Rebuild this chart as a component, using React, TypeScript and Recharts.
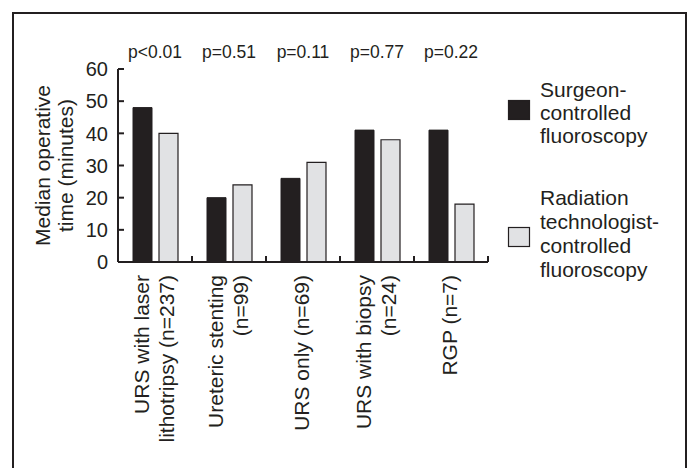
import React from 'react';
import { BarChart, Bar, XAxis, YAxis } from 'recharts';

const categoryLines: string[][] = [
  ['URS with laser', 'lithotripsy (n=237)'],
  ['Ureteric stenting', '(n=99)'],
  ['URS only (n=69)'],
  ['URS with biopsy', '(n=24)'],
  ['RGP (n=7)'],
];
const categories = categoryLines.map((l) => l.join(' '));
const surgeonControlled = [48, 20, 26, 41, 41];
const technologistControlled = [40, 24, 31, 38, 18];
const pValues = ['p<0.01', 'p=0.51', 'p=0.11', 'p=0.77', 'p=0.22'];
const yTicks = [0, 10, 20, 30, 40, 50, 60];
const yLabelLines = ['Median operative', 'time (minutes)'];
const seriesLabels: string[][] = [
  ['Surgeon-', 'controlled', 'fluoroscopy'],
  ['Radiation', 'technologist-', 'controlled', 'fluoroscopy'],
];

const INK = '#231f20';
const GRAY = '#e1e2e4';
const seriesColors = [INK, GRAY];
const FONT = '"Liberation Sans", Arial, Helvetica, sans-serif';

const data = categories.map((c, i) => ({
  category: c,
  surgeon: surgeonControlled[i],
  tech: technologistControlled[i],
}));

const XTick = (props: any) => {
  const { x, y, payload } = props;
  const idx = categories.indexOf(payload.value);
  const lines = categoryLines[idx] || [String(payload.value)];
  const half = typeof payload.offset === 'number' && payload.offset > 0 ? payload.offset : 37;
  const ty = y + 13;
  const offs = lines.length === 2 ? [-6, 19] : [6];
  return (
    <g>
      <line x1={x + half} x2={x + half} y1={y} y2={y - 6} stroke={INK} strokeWidth={2} />
      <text
        transform={`rotate(-90 ${x} ${ty})`}
        x={x}
        y={ty}
        textAnchor="end"
        fontSize={21}
        fill={INK}
        fontFamily={FONT}
      >
        {lines.map((l, i) => (
          <tspan key={i} x={x} y={ty + offs[i]}>
            {l}
          </tspan>
        ))}
      </text>
    </g>
  );
};

const PTick = (props: any) => {
  const { x, y, payload } = props;
  const idx = categories.indexOf(payload.value);
  return (
    <text x={x} y={y - 11} textAnchor="middle" fontSize={17.5} fill={INK} fontFamily={FONT}>
      {pValues[idx]}
    </text>
  );
};

const YTick = (props: any) => {
  const { x, y, payload } = props;
  return (
    <g>
      <line x1={x} x2={x + 6} y1={y} y2={y} stroke={INK} strokeWidth={2} />
      <text x={x - 10} y={y} dy="0.36em" textAnchor="end" fontSize={20} fill={INK} fontFamily={FONT}>
        {payload.value}
      </text>
    </g>
  );
};

const legendLayout = [
  { rectTop: 100, firstBaseline: 97, step: 23 },
  { rectTop: 227, firstBaseline: 205, step: 24 },
];

export default function App() {
  return (
    <div style={{ position: 'absolute', left: 0, top: 0, width: 691, height: 468, background: '#fff' }}>
      <div
        style={{
          position: 'absolute',
          left: 12,
          top: 12,
          width: 675,
          height: 456,
          boxSizing: 'border-box',
          borderTop: `2px solid ${INK}`,
          borderLeft: `2px solid ${INK}`,
          borderRight: `2px solid ${INK}`,
        }}
      />
      <div style={{ position: 'absolute', left: 0, top: 0 }}>
        <BarChart
          width={691}
          height={468}
          data={data}
          margin={{ top: 29, right: 203, bottom: 0, left: 58 }}
          barGap={7}
        >
          <XAxis
            dataKey="category"
            height={206}
            interval={0}
            tickSize={0}
            tickMargin={0}
            tickLine={false}
            axisLine={{ stroke: INK, strokeWidth: 2 }}
            tick={XTick}
          />
          <XAxis
            xAxisId="top"
            orientation="top"
            dataKey="category"
            height={40}
            interval={0}
            tickSize={0}
            tickMargin={0}
            tickLine={false}
            axisLine={false}
            tick={PTick}
          />
          <YAxis
            domain={[0, 60]}
            ticks={yTicks}
            interval={0}
            width={60}
            tickSize={0}
            tickMargin={0}
            tickLine={false}
            axisLine={{ stroke: INK, strokeWidth: 2 }}
            tick={YTick}
          />
          <Bar dataKey="surgeon" fill={INK} stroke={INK} strokeWidth={1} barSize={19} isAnimationActive={false} />
          <Bar dataKey="tech" fill={GRAY} stroke={INK} strokeWidth={1.2} barSize={19} isAnimationActive={false} />
        </BarChart>
      </div>
      <svg
        width={691}
        height={468}
        style={{ position: 'absolute', left: 0, top: 0, pointerEvents: 'none' }}
      >
        <text
          transform="rotate(-90 61.5 165.5)"
          x={61.5}
          y={165.5}
          textAnchor="middle"
          fontSize={21}
          fill={INK}
          fontFamily={FONT}
        >
          {yLabelLines.map((l, i) => (
            <tspan key={i} x={61.5} y={165.5 - 11.5 + i * 23}>
              {l}
            </tspan>
          ))}
        </text>
        {seriesLabels.map((lines, si) => {
          const lay = legendLayout[si];
          return (
            <g key={si}>
              <rect
                x={508.5}
                y={lay.rectTop + 0.5}
                width={21}
                height={19}
                fill={seriesColors[si]}
                stroke={INK}
                strokeWidth={1.2}
              />
              <text fontSize={21} fill={INK} fontFamily={FONT}>
                {lines.map((l, i) => (
                  <tspan key={i} x={540} y={lay.firstBaseline + i * lay.step}>
                    {l}
                  </tspan>
                ))}
              </text>
            </g>
          );
        })}
      </svg>
    </div>
  );
}
